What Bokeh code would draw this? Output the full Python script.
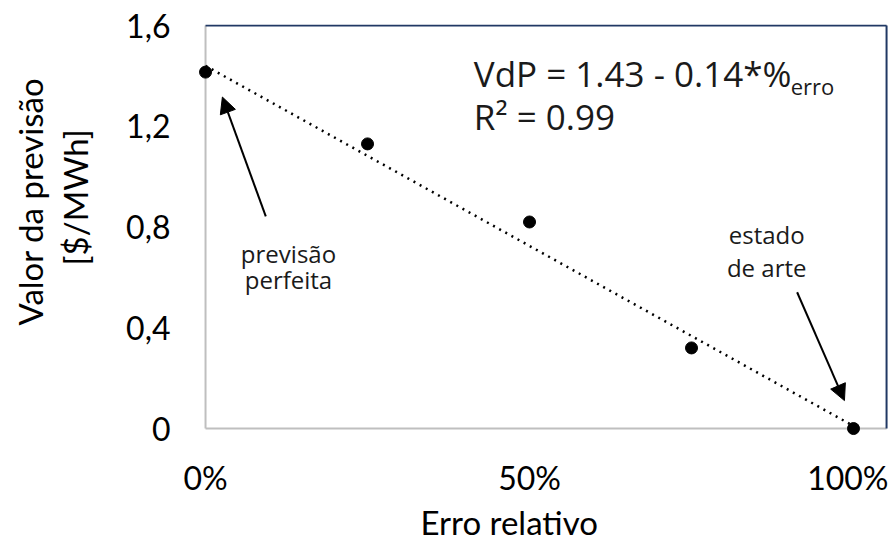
from bokeh.plotting import figure
from bokeh.models import Range1d, FixedTicker, Arrow, NormalHead, Label, ColumnDataSource, Title
from bokeh.embed import file_html
from bokeh.resources import INLINE

# data
erro_rel = [0.0, 0.25, 0.50, 0.75, 1.0]
valor_prev = [1.415, 1.13, 0.82, 0.32, 0.0]
trend_x = [0.0, 1.0]
trend_y = [1.44, 0.01]
x_ticks = [0.0, 0.5, 1.0]
x_tick_labels = ["0%", "50%", "100%"]
y_ticks = [0.0, 0.4, 0.8, 1.2, 1.6]
y_tick_labels = ["0", "0,4", "0,8", "1,2", "1,6"]
x_border = 1.051   # right edge of the chart box (data units)

AX_FONT = "Lato"
ANN_FONT = "Open Sans"
GRAY = "#bfbfbf"
NAVY = "#203864"

p = figure(width=888, height=541, output_backend="svg", toolbar_location=None,
           x_range=Range1d(-0.0124, 1.054), y_range=Range1d(-0.0316, 1.604),
           min_border_left=197, min_border_right=0, min_border_top=24, min_border_bottom=103)
p.background_fill_color = "white"
p.border_fill_color = "white"
p.outline_line_color = None
p.xgrid.visible = False
p.ygrid.visible = False

p.xaxis.ticker = FixedTicker(ticks=x_ticks)
p.xaxis.major_label_overrides = {t: l for t, l in zip(x_ticks, x_tick_labels)}
p.yaxis.ticker = FixedTicker(ticks=y_ticks)
p.yaxis.major_label_overrides = {t: l for t, l in zip(y_ticks, y_tick_labels)}
for ax in (p.xaxis[0], p.yaxis[0]):
    ax.axis_line_color = None
    ax.major_tick_line_color = None
    ax.minor_tick_line_color = None
    ax.major_tick_out = 0
    ax.major_tick_in = 0
    ax.major_label_text_font = AX_FONT
    ax.major_label_text_font_size = "32px"
    ax.major_label_text_color = "#000000"
p.xaxis.major_label_standoff = 21
p.yaxis.major_label_standoff = 27

# axis titles as side titles (so they can sit outside the frame)
p.add_layout(Title(text=" ", standoff=0, text_font=AX_FONT, text_font_size="20px"), "left")
p.add_layout(Title(text="[$/MWh]", align="left", offset=171, standoff=6,
                   text_font=AX_FONT, text_font_size="33px", text_font_style="normal",
                   text_color="#000000"), "left")
p.add_layout(Title(text="Valor da previsão", align="left", offset=111, standoff=0,
                   text_font=AX_FONT, text_font_size="33px", text_font_style="normal",
                   text_color="#000000"), "left")
p.add_layout(Title(text="Erro relativo", align="left", offset=223, standoff=0,
                   text_font=AX_FONT, text_font_size="33px", text_font_style="normal",
                   text_color="#000000"), "below")

# chart box: gray axes on left/bottom, navy border on top/right
x0, y0, y1 = x_ticks[0], y_ticks[0], y_ticks[-1]
p.segment(x0=[x0], y0=[y0], x1=[x0], y1=[y1], line_color=GRAY, line_width=2)
p.segment(x0=[x0], y0=[y0], x1=[x_border], y1=[y0], line_color=GRAY, line_width=2)
p.segment(x0=[x0], y0=[y1], x1=[x_border], y1=[y1], line_color=NAVY, line_width=2)
p.segment(x0=[x_border], y0=[y0], x1=[x_border], y1=[y1], line_color=NAVY, line_width=2)

src = ColumnDataSource(dict(x=erro_rel, y=valor_prev))
p.line(trend_x, trend_y, line_color="black", line_width=2.5, line_dash="2 5")
p.scatter("x", "y", source=src, size=12, color="black")

p.add_layout(Arrow(end=NormalHead(size=16, fill_color="black", line_color="black"),
                   x_start=0.093, y_start=0.842, x_end=0.026, y_end=1.316,
                   line_color="black", line_width=2))
p.add_layout(Arrow(end=NormalHead(size=16, fill_color="black", line_color="black"),
                   x_start=0.913, y_start=0.541, x_end=0.986, y_end=0.111,
                   line_color="black", line_width=2))

def lab(x, y, t, size="24px", align="center", baseline="middle"):
    p.add_layout(Label(x=x, y=y, text=t, text_font=ANN_FONT, text_font_size=size,
                       text_align=align, text_baseline=baseline, text_color="#1a1a1a"))

lab(0.128, 0.695, "previsão")
lab(0.128, 0.59, "perfeita")
lab(0.866, 0.77, "estado")
lab(0.866, 0.64, "de arte")
lab(0.414, 1.411, "VdP = 1.43 - 0.14*%", size="35px", align="left")
lab(0.903, 1.36, "erro", size="22px", align="left")
lab(0.414, 1.237, "R² = 0.99", size="35px", align="left")

open("out.html", "w").write(file_html(p, INLINE))
